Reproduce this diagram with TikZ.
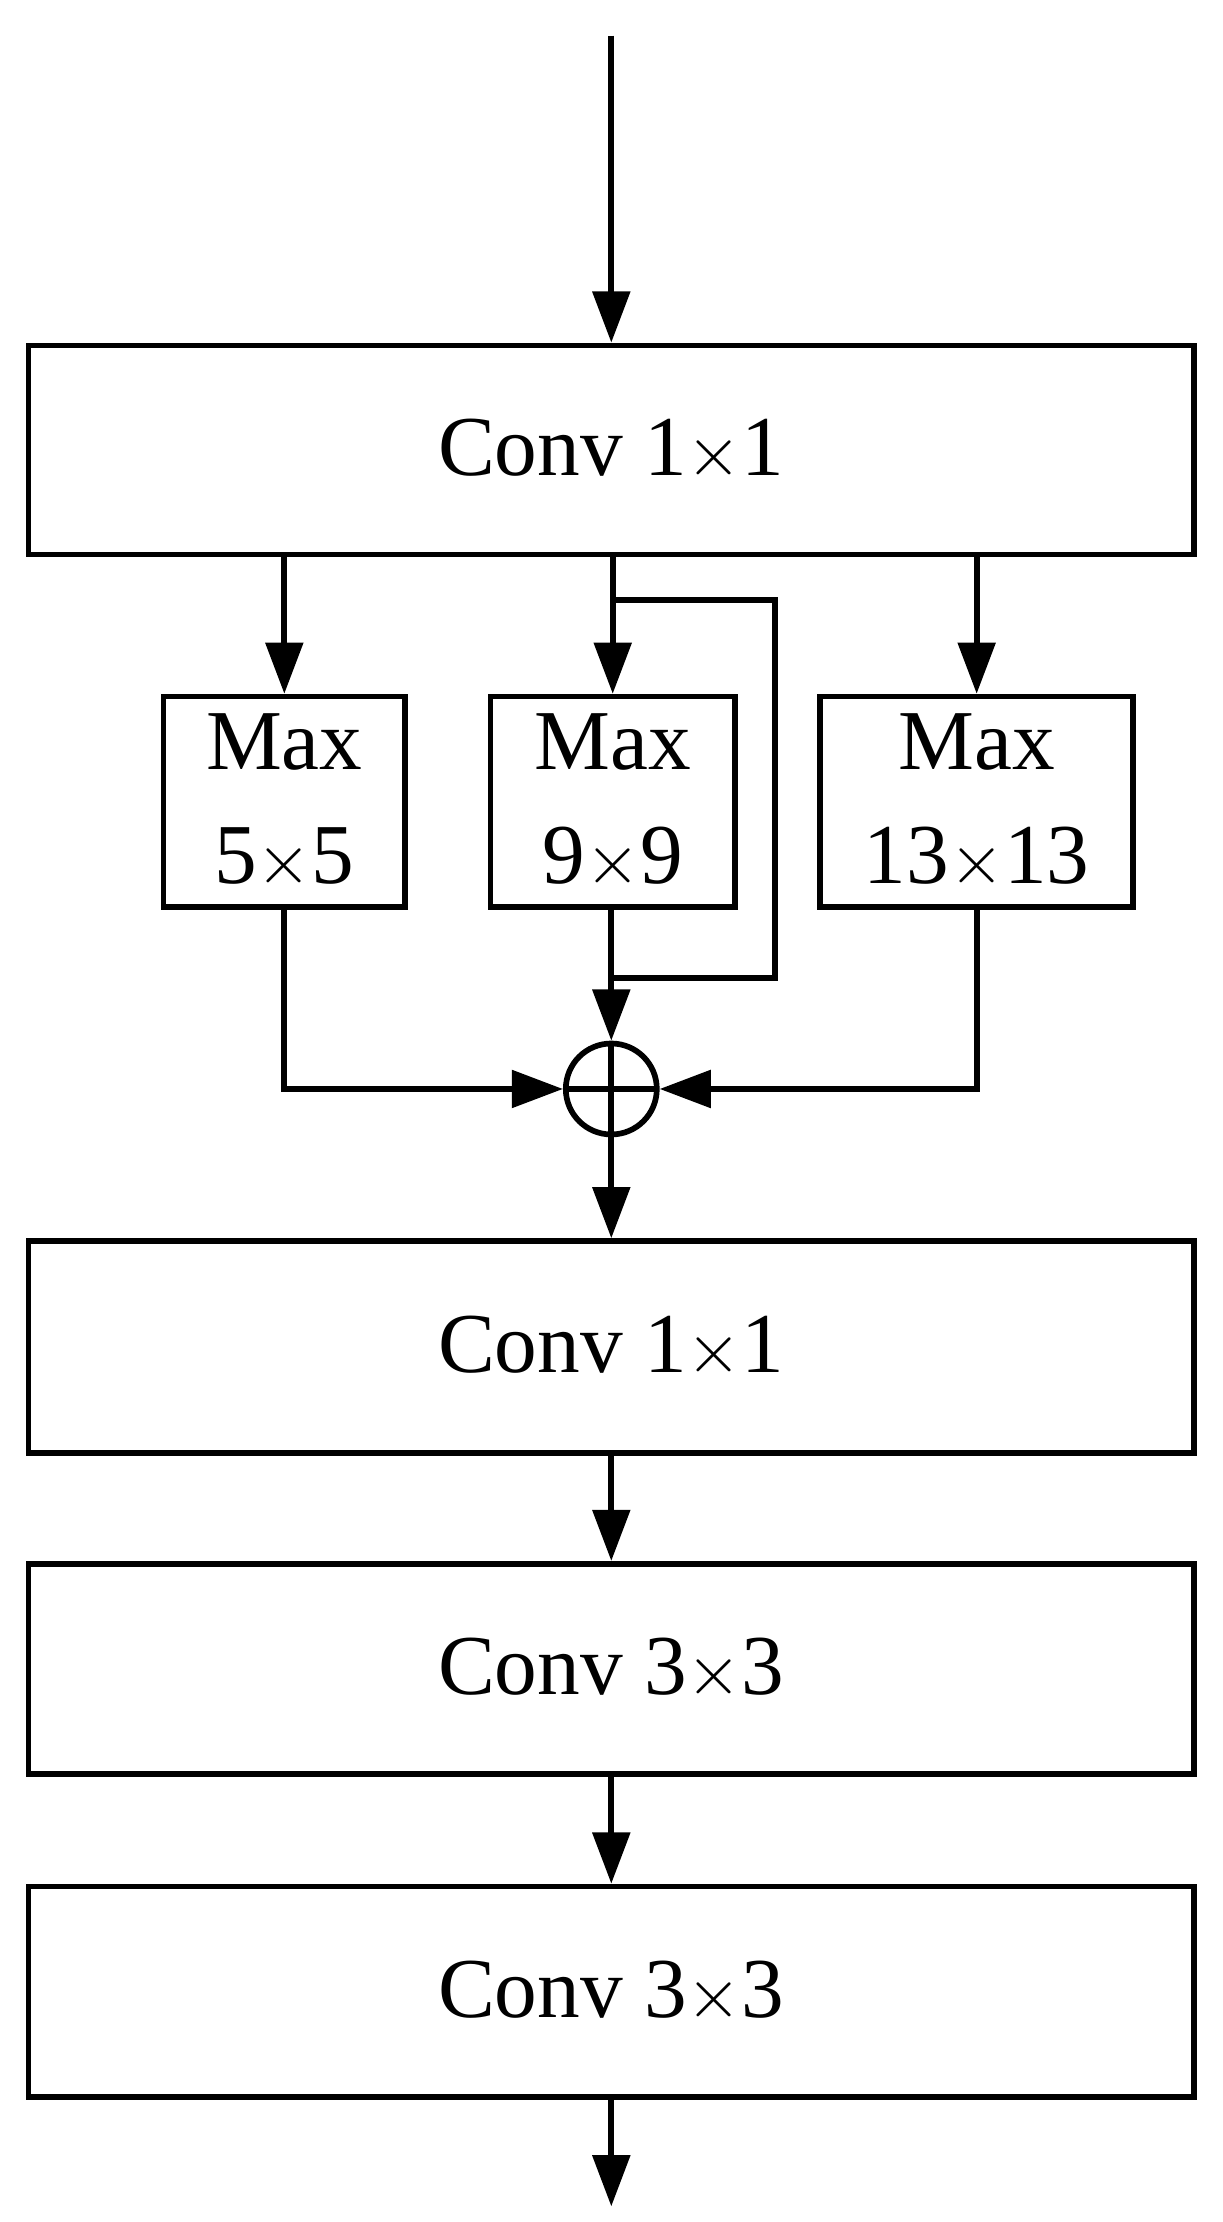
\documentclass[tikz,border=0pt]{standalone}
\usepackage{fontspec}
\setmainfont{Liberation Serif}
\usetikzlibrary{arrows.meta}
\begin{document}
\begin{tikzpicture}[x=0.5pt,y=-0.5pt,
  every node/.style={font=\fontsize{30}{40}\selectfont},
  box/.style={draw,line width=2pt,inner sep=0pt,align=center},
  ln/.style={line width=2pt},
  ar/.style={line width=2pt,-{Triangle[length=18pt,width=13pt]}}]
\useasboundingbox (0,0) rectangle (860,1563);
\node[box,minimum width=410pt,minimum height=73.5pt] (c1) at (430,316.5) {Conv 1$\times$1};
\node[box,minimum width=85pt,minimum height=74pt] (m5) at (200,564) {Max\\5$\times$5};
\node[box,minimum width=86pt,minimum height=74pt] (m9) at (431,564) {Max\\9$\times$9};
\node[box,minimum width=110pt,minimum height=74pt] (m13) at (687,564) {Max\\13$\times$13};
\node[draw,circle,line width=2pt,minimum size=32pt,inner sep=0pt,
  path picture={\draw[line width=2pt] (path picture bounding box.north)--(path picture bounding box.south) (path picture bounding box.west)--(path picture bounding box.east);}] (s) at (430,766) {};
\node[box,minimum width=410pt,minimum height=74.5pt] (c2) at (430,947.5) {Conv 1$\times$1};
\node[box,minimum width=410pt,minimum height=74pt] (c3) at (430,1174) {Conv 3$\times$3};
\node[box,minimum width=410pt,minimum height=74pt] (c4) at (430,1401) {Conv 3$\times$3};
\coordinate (top) at (430,25);
\coordinate (bot) at (430,1552);
\draw[ar] (top) -- (c1.north);
\draw[ar] (c1.south -| m5) -- (m5.north);
\draw[ar] (c1.south -| m9) -- (m9.north);
\draw[ar] (c1.south -| m13) -- (m13.north);
\draw[ln] (430,422) -- (545,422) -- (545,688) -- (430,688);
\draw[ar] (m9.south -| s) -- (s.north);
\draw[ar] (m5.south) |- (s.west);
\draw[ar] (m13.south) |- (s.east);
\draw[ar] (s.south) -- (c2.north);
\draw[ar] (c2.south) -- (c3.north);
\draw[ar] (c3.south) -- (c4.north);
\draw[ar] (c4.south) -- (bot);
\end{tikzpicture}
\end{document}
